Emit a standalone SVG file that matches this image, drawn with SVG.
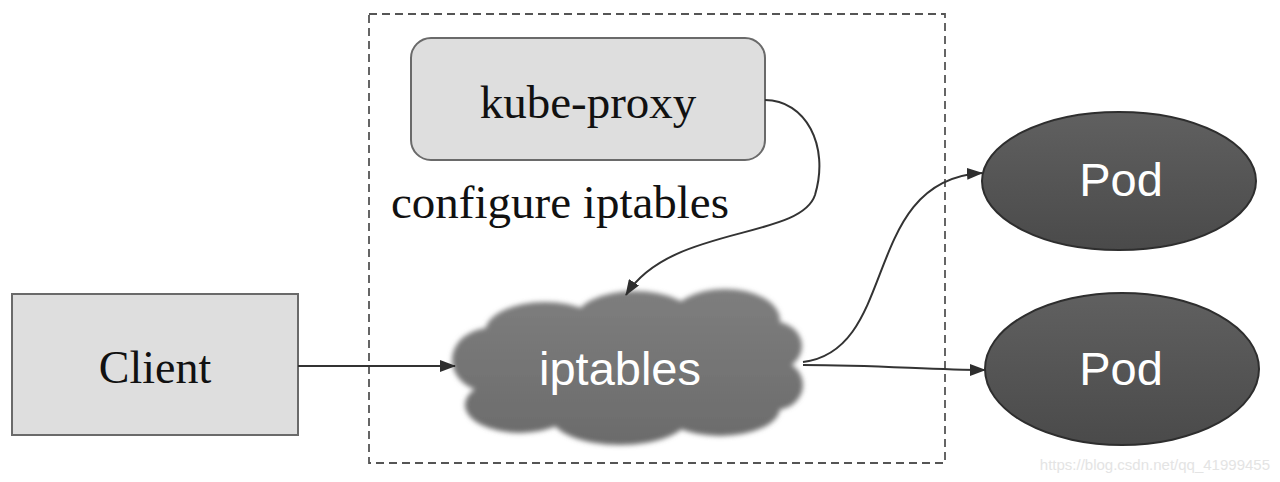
<svg xmlns="http://www.w3.org/2000/svg" width="1280" height="482" viewBox="0 0 1280 482">
  <style>
    .serif { font-family: "Liberation Serif", "Times New Roman", serif; fill: #111; }
    .sans-w { font-family: "Liberation Sans", Arial, sans-serif; fill: #fff; }
    .box { fill: #dedede; stroke: #6a6a6a; stroke-width: 2; }
    .pod { fill: url(#podFill); stroke: #2e2e2e; stroke-width: 2; }
    .edge { fill: none; stroke: #333; stroke-width: 2; }
  </style>
  <defs>
    <marker id="arrow" viewBox="0 0 16 12" refX="15" refY="6" markerWidth="16" markerHeight="12" markerUnits="userSpaceOnUse" orient="auto">
      <path d="M0,0 L16,6 L0,12 Z" fill="#2e2e2e"/>
    </marker>
    <linearGradient id="podFill" x1="0" y1="0" x2="0" y2="1">
      <stop offset="0" stop-color="#606060"/>
      <stop offset="1" stop-color="#4a4a4a"/>
    </linearGradient>
    <linearGradient id="cloudFill" gradientUnits="userSpaceOnUse" x1="0" y1="288" x2="0" y2="447">
      <stop offset="0" stop-color="#7e7e7e"/>
      <stop offset="1" stop-color="#6b6b6b"/>
    </linearGradient>
    <filter id="soft" x="-10%" y="-20%" width="120%" height="140%">
      <feGaussianBlur stdDeviation="2.6"/>
    </filter>
  </defs>

  <rect width="1280" height="482" fill="#fff"/>

  <!-- host boundary -->
  <rect x="369" y="14" width="576" height="449" fill="none" stroke="#555" stroke-width="1.8" stroke-dasharray="8 5"/>

  <g id="client">
    <rect class="box" x="12" y="294" width="286" height="141"/>
    <text class="serif" x="155" y="383" font-size="46" text-anchor="middle">Client</text>
  </g>

  <g id="kube-proxy">
    <rect class="box" x="411" y="38" width="354" height="122" rx="20"/>
    <text class="serif" x="588" y="118" font-size="47" text-anchor="middle">kube-proxy</text>
  </g>

  <text id="configure-label" class="serif" x="391" y="218" font-size="47">configure iptables</text>

  <g id="iptables">
    <g fill="url(#cloudFill)" filter="url(#soft)">
      <ellipse cx="628" cy="366" rx="150" ry="58"/>
      <ellipse cx="545" cy="332" rx="60" ry="30"/>
      <ellipse cx="635" cy="320" rx="60" ry="29"/>
      <ellipse cx="725" cy="320" rx="55" ry="31"/>
      <ellipse cx="772" cy="346" rx="30" ry="25"/>
      <ellipse cx="490" cy="360" rx="38" ry="32"/>
      <ellipse cx="520" cy="405" rx="55" ry="28"/>
      <ellipse cx="620" cy="415" rx="70" ry="30"/>
      <ellipse cx="720" cy="408" rx="60" ry="28"/>
      <ellipse cx="775" cy="385" rx="28" ry="25"/>
    </g>
    <text class="sans-w" x="620" y="385" font-size="47" text-anchor="middle">iptables</text>
  </g>

  <g id="pod-1">
    <ellipse class="pod" cx="1119" cy="181" rx="137" ry="69"/>
    <text class="sans-w" x="1121" y="196" font-size="47" text-anchor="middle">Pod</text>
  </g>

  <g id="pod-2">
    <ellipse class="pod" cx="1122" cy="369" rx="137" ry="76"/>
    <text class="sans-w" x="1121" y="385" font-size="47" text-anchor="middle">Pod</text>
  </g>

  <g id="connectors">
    <path class="edge" d="M298,366 L455,366" marker-end="url(#arrow)"/>
    <path class="edge" d="M765,100 C805,100 830,145 815,195 C800,240 670,225 626,295" marker-end="url(#arrow)"/>
    <path class="edge" d="M803,362 C900,350 860,180 982,173" marker-end="url(#arrow)"/>
    <path class="edge" d="M803,365 C880,365 930,370 985,370" marker-end="url(#arrow)"/>
  </g>

  <text x="1270" y="470" font-family="Liberation Sans, Arial, sans-serif" font-size="15" fill="#e4e4e4" text-anchor="end">https://blog.csdn.net/qq_41999455</text>
</svg>
